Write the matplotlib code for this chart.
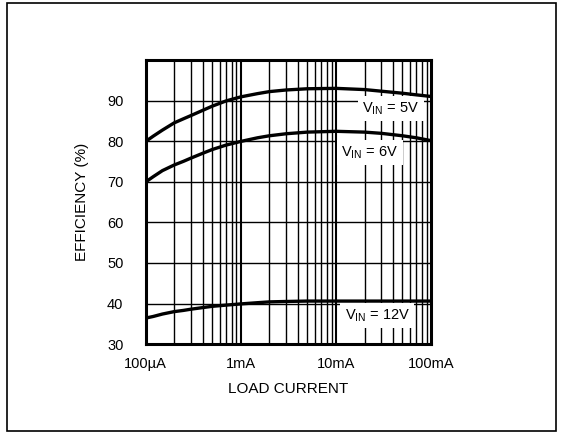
import matplotlib
matplotlib.use("Agg")
import matplotlib.pyplot as plt
from matplotlib.patches import Rectangle
from matplotlib.ticker import FixedLocator, NullFormatter

FONT = ["Liberation Sans", "DejaVu Sans"]
plt.rcParams["font.family"] = FONT
plt.rcParams["mathtext.fontset"] = "custom"
plt.rcParams["mathtext.rm"] = "Liberation Sans"
plt.rcParams["mathtext.it"] = "Liberation Sans"

# load current (A) and efficiency (%)
load_current = [1e-4, 1.2e-4, 1.5e-4, 2e-4, 2.5e-4, 3e-4, 4e-4, 5e-4, 7e-4,
                1e-3, 1.5e-3, 2e-3, 3e-3, 5e-3, 1e-2, 2e-2, 3e-2, 5e-2, 7e-2, 1e-1]
eff_5v = [80.0, 81.3, 82.8, 84.6, 85.6, 86.4, 87.7, 88.7, 90.0,
          91.0, 91.8, 92.3, 92.7, 93.0, 93.1, 92.8, 92.4, 91.9, 91.5, 91.1]
eff_6v = [70.0, 71.3, 72.8, 74.2, 75.1, 75.9, 77.1, 78.0, 79.1,
          80.0, 80.9, 81.4, 81.9, 82.3, 82.5, 82.3, 82.0, 81.4, 80.9, 80.2]
eff_12v = [36.4, 36.8, 37.4, 38.0, 38.3, 38.6, 39.0, 39.3, 39.6,
           39.9, 40.2, 40.4, 40.5, 40.6, 40.6, 40.6, 40.6, 40.6, 40.6, 40.6]

x_ticks = [1e-4, 1e-3, 1e-2, 1e-1]
x_tick_labels = ["100µA", "1mA", "10mA", "100mA"]
y_ticks = [30, 40, 50, 60, 70, 80, 90]


def main():
    fig = plt.figure(figsize=(5.61, 4.33), dpi=100)
    fig.patches.append(Rectangle((0.013, 0.005), 0.978, 0.988, transform=fig.transFigure,
                                 fill=False, edgecolor="black", linewidth=1.2))

    ax = fig.add_axes([0.2597, 0.2055, 0.5086, 0.655])
    ax.set_xscale("log")
    ax.set_xlim(1e-4, 1e-1)
    ax.set_ylim(30, 100)

    # grid: every minor decade step, heavier at decades
    minor = [m * 10.0 ** e for e in (-4, -3, -2) for m in range(2, 10)]
    for x in minor:
        ax.axvline(x, color="black", linewidth=1.0, zorder=1)
    for x in (1e-3, 1e-2):
        ax.axvline(x, color="black", linewidth=1.5, zorder=1)
    for y in y_ticks[1:]:
        ax.axhline(y, color="black", linewidth=1.0, zorder=1)

    for eff in (eff_5v, eff_6v, eff_12v):
        ax.plot(load_current, eff, color="black", linewidth=2.4, zorder=4,
                solid_capstyle="butt", solid_joinstyle="round")

    box = dict(boxstyle="square,pad=0.3", facecolor="white", edgecolor="none")
    ax.text(0.0189, 87.1, r"V$_{\mathrm{IN}}$ = 5V", fontsize=10.5, ha="left",
            va="baseline", bbox=box, zorder=3)
    ax.text(0.0114, 76.25, r"V$_{\mathrm{IN}}$ = 6V", fontsize=10.5, ha="left",
            va="baseline", bbox=box, zorder=3)
    ax.text(0.01233, 36.1, r"V$_{\mathrm{IN}}$ = 12V", fontsize=10.5, ha="left",
            va="baseline", bbox=box, zorder=3)

    ax.xaxis.set_major_locator(FixedLocator(x_ticks))
    ax.xaxis.set_minor_locator(FixedLocator([]))
    ax.xaxis.set_minor_formatter(NullFormatter())
    ax.set_xticks(x_ticks)
    ax.set_xticklabels(x_tick_labels)
    ax.set_yticks(y_ticks)
    ax.tick_params(axis="both", length=0, labelsize=10.5)
    ax.tick_params(axis="x", pad=9)
    ax.tick_params(axis="y", pad=16)

    for spine in ax.spines.values():
        spine.set_linewidth(2.2)
        spine.set_zorder(5)

    ax.set_xlabel("LOAD CURRENT", fontsize=11, labelpad=8)
    ax.set_ylabel("EFFICIENCY (%)", fontsize=11, labelpad=13)

    fig.savefig("out.png", dpi=100)
    plt.close(fig)


if __name__ == "__main__":
    main()
